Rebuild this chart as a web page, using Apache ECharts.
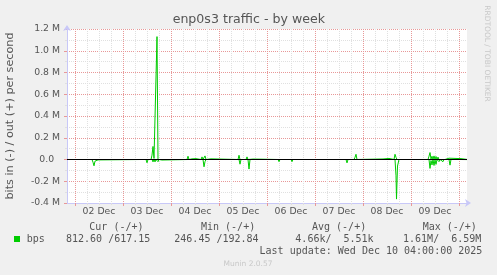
<!DOCTYPE html>
<html><head><meta charset="utf-8">
<script src="https://cdn.jsdelivr.net/npm/echarts@6/dist/echarts.min.js"></script>
<style>html,body{margin:0;padding:0;background:#f0f0f0}#c{width:497px;height:275px}</style>
</head><body><div id="c"></div><script>
// hours since 01 Dec 00:00
const dayLabels = ['02 Dec','03 Dec','04 Dec','05 Dec','06 Dec','07 Dec','08 Dec','09 Dec'];
const yTicks = [-400000,-200000,0,200000,400000,600000,800000,1000000,1200000];
const outHours = [20,32.5,33,33.5,35,35.5,36,36.5,62,62.5,63,63.5,64,64.5,65,65.5,67.5,68,68.5,80,80.5,81,82.5,83,84.5,85,87,87.5,88,89,89.5,92,92.5,105.5,106,106.5,109.5,110,110.5,113,113.5,117,117.5,125.5,126,126.5,159,159.5,160,163.5,164,164.5,165,178,178.5,181,181.5,183.5,184,184.5,185,200.5,201,201.5,202,202.5,203,203.5,204,204.5,205,205.5,206,207,207.5,208.5,209,211,211.5,217,217.5,220];
const outBps = [0,0,6000,0,0,12000,4000,0,0,40000,120000,10000,0,0,1130000,0,0,5000,0,0,30000,0,6000,0,8000,0,0,24000,0,33000,0,6000,0,0,39000,0,0,24000,0,4000,0,3000,0,0,18000,0,0,18000,0,0,20000,48000,0,5000,0,10000,0,0,48000,20000,0,0,30000,64000,5000,30000,0,33000,0,28000,0,22000,0,18000,0,15000,0,12000,0,8000,0,600];
const inHours = [20,32.5,33,33.5,34,34.5,35.5,36,57,57.5,58,59.5,60,60.5,62.5,63,63.5,64,64.5,65,65.5,66,67,67.5,68,80.5,81,81.5,82.5,83,83.5,84.5,85,85.5,88,88.5,89,89.5,91.5,92,92.5,106,106.5,107,110.5,111,111.5,125.5,126,126.5,132,132.5,133,137.5,138,138.5,159.5,160,160.5,163.5,164,164.5,181,181.5,182,184,184.5,184.75,185.25,186,201,201.5,202,202.5,203,203.5,204,204.5,205,206,206.5,207.5,208,208.5,211,211.5,212,217,217.5,218,220];
const inBps = [0,0,-25000,-58000,-15000,0,-4000,0,0,-10000,0,0,-30000,0,0,-22000,0,-22000,0,-18000,-20000,0,0,-5000,0,0,-10000,0,0,-8000,0,0,-6000,0,0,-67000,-20000,0,0,-6000,0,0,-43000,0,0,-88000,0,0,-20000,0,0,-20000,0,0,-8000,0,0,-31000,0,0,-12000,0,0,-10000,0,0,-150000,-364000,-60000,0,0,-82000,-10000,-50000,0,-55000,-5000,-45000,0,-20000,0,0,-20000,0,0,-52000,0,0,-18000,0,-800];

const X_MIN = 20, X_MAX = 220;
const midnights = dayLabels.map((d,i)=>24*(i+1)).concat([216]);
const sixHours = []; for (let h = 24; h < X_MAX; h += 6) if (h % 24) sixHours.push(h);
const noons = dayLabels.map((d,i)=>24*(i+1)+12);

const GREEN = '#00cc00', AXIS = '#c8c8f8', MAJOR = '#e89898', MINOR = '#e0e0e0', TXT = '#555';
const FONT = 'DejaVu Sans', MONO = 'DejaVu Sans Mono';

const chart = echarts.init(document.getElementById('c'), null, {renderer:'canvas'});
const baseX = {type:'value', min:X_MIN, max:X_MAX, position:'bottom', axisLine:{show:false,onZero:false}, axisLabel:{show:false}, axisTick:{show:false}, splitLine:{show:false}};
const mono = (x,y,t,align)=>({type:'text', x, y, style:{text:t, fill:TXT, font:'10px "'+MONO+'"', textAlign:align||'left', textVerticalAlign:'middle'}, silent:true});
chart.setOption({
  backgroundColor:'#f0f0f0',
  animation:false,
  grid:{left:67, top:29, width:400, height:174, show:true, backgroundColor:'#ffffff', borderWidth:0},
  xAxis:[
    Object.assign({}, baseX, {axisLine:{show:true,onZero:false,lineStyle:{color:AXIS,width:1},symbol:['none','arrow'],symbolSize:[6,6],symbolOffset:[0,4]}}),
    Object.assign({}, baseX, {axisTick:{show:true,customValues:sixHours,length:2,lineStyle:{color:MINOR}}, splitLine:{show:true,lineStyle:{color:MINOR,type:[1,1],width:1}}}),
    Object.assign({}, baseX, {axisTick:{show:true,customValues:midnights,length:3,lineStyle:{color:MAJOR}}, splitLine:{show:true,lineStyle:{color:MAJOR,type:[1,1],width:1}}}),
    Object.assign({}, baseX, {axisLabel:{show:true,customValues:noons,margin:4,lineHeight:10,color:TXT,fontFamily:FONT,fontSize:9.3,
      formatter:(v)=>dayLabels[Math.round((v-12)/24)-1]}})
  ],
  yAxis:{type:'value', min:yTicks[0], max:yTicks[yTicks.length-1], interval:200000,
    axisLine:{show:true,onZero:false,lineStyle:{color:AXIS},symbol:['none','arrow'],symbolSize:[6,6],symbolOffset:[0,4]},
    axisTick:{show:true,length:3,lineStyle:{color:MAJOR}},
    minorTick:{show:true,splitNumber:2,length:2,lineStyle:{color:MINOR}},
    splitLine:{show:true,lineStyle:{color:MAJOR,type:[1,1]}},
    minorSplitLine:{show:true,lineStyle:{color:MINOR,type:[1,1]}},
    axisLabel:{margin:7,color:TXT,fontFamily:FONT,fontSize:9.3,
      formatter:(v)=> v===0 ? '0.0  ' : (v/1e6).toFixed(1)+' M'}
  },
  series:[
    {type:'line', name:'bps', xAxisIndex:0, data:outHours.map((h,i)=>[h,outBps[i]]), showSymbol:false, symbol:'none',
      lineStyle:{color:GREEN,width:1}, itemStyle:{color:GREEN}, z:3,
      markLine:{silent:true, symbol:'none', label:{show:false}, lineStyle:{color:'#000',width:1.2,type:'solid'}, data:[{yAxis:0}], z:10}},
    {type:'line', name:'bps', xAxisIndex:0, data:inHours.map((h,i)=>[h,inBps[i]]), showSymbol:false, symbol:'none',
      lineStyle:{color:GREEN,width:1}, itemStyle:{color:GREEN}, z:3}
  ],
  graphic:[
    {type:'text', x:248.8, y:19.5, style:{text:'enp0s3 traffic - by week', fill:TXT, font:'12.6px "'+FONT+'"', textAlign:'center', textVerticalAlign:'middle'}},
    {type:'text', x:10.3, y:116, rotation:Math.PI/2, style:{text:'bits in (-) / out (+) per second', fill:TXT, font:'11.2px "'+FONT+'"', textAlign:'center', textVerticalAlign:'middle'}},
    {type:'text', x:487, y:53.5, rotation:-Math.PI/2, style:{text:'RRDTOOL / TOBI OETIKER', fill:'#c8c8c8', font:'7.5px "'+FONT+'"', textAlign:'center', textVerticalAlign:'middle'}},
    mono(89.3,227.7,'Cur (-/+)'), mono(201,227.7,'Min (-/+)'), mono(312,227.7,'Avg (-/+)'), mono(422.7,227.7,'Max (-/+)'),
    {type:'rect', shape:{x:14,y:236,width:6,height:6}, style:{fill:GREEN}},
    mono(26.7,239.3,'bps'), mono(66,239.3,'812.60 /617.15'), mono(174.3,239.3,'246.45 /192.84'),
    mono(283.3,239.3,'  4.66k/  5.51k'), mono(391,239.3,'  1.61M/  6.59M'),
    mono(482.3,251.7,'Last update: Wed Dec 10 04:00:00 2025','right'),
    {type:'text', x:248, y:264.3, style:{text:'Munin 2.0.57', fill:'#c8c8c8', font:'7.5px "'+FONT+'"', textAlign:'center', textVerticalAlign:'middle'}}
  ]
});
</script></body></html>
